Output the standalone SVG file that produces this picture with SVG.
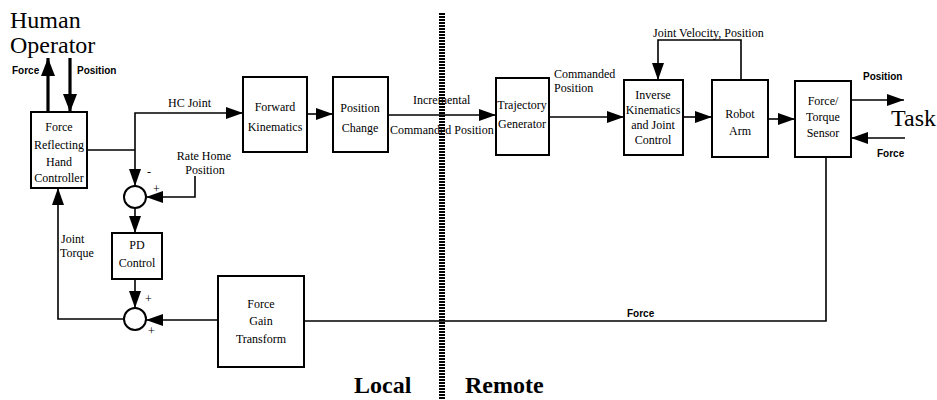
<svg xmlns="http://www.w3.org/2000/svg" width="937" height="400" viewBox="0 0 937 400">
<style>
.bx{fill:#fff;stroke:#000;stroke-width:2}
.ln{fill:none;stroke:#000;stroke-width:1.6}
.hv{fill:none;stroke:#000;stroke-width:3.2}
.t{font-family:"Liberation Serif",serif;font-size:12px;fill:#000}
.c{text-anchor:middle}
.s{font-family:"Liberation Sans",sans-serif;font-size:10px;font-weight:bold;fill:#000}
.big{font-family:"Liberation Serif",serif;font-size:24px;fill:#000}
.bb{font-family:"Liberation Serif",serif;font-size:24px;font-weight:bold;fill:#000}
</style>
<defs>
<marker id="ah" markerUnits="userSpaceOnUse" markerWidth="17" markerHeight="12" refX="17" refY="6" orient="auto">
<path d="M0,0 L17,6 L0,12 z" fill="#000"/>
</marker>
<marker id="ahb" markerUnits="userSpaceOnUse" markerWidth="18" markerHeight="14" refX="18" refY="7" orient="auto">
<path d="M0,0 L18,7 L0,14 z" fill="#000"/>
</marker>
</defs>
<rect width="937" height="400" fill="#fff"/>

<g id="divider">
<line x1="442" y1="13" x2="442" y2="400" stroke="#000" stroke-width="6" stroke-dasharray="2 1"/>
</g>

<g id="connectors">
<path class="hv" d="M48,112 V58" marker-end="url(#ahb)"/>
<path class="hv" d="M70,58 V112" marker-end="url(#ahb)"/>
<path class="ln" d="M87,150 H135"/>
<path class="ln" d="M135,150 V113 H243" marker-end="url(#ah)"/>
<path class="ln" d="M135,150 V186" marker-end="url(#ah)"/>
<path class="ln" d="M195,176 V197 H146" marker-end="url(#ah)"/>
<path class="ln" d="M135,208 V233" marker-end="url(#ah)"/>
<path class="ln" d="M135,279 V308" marker-end="url(#ah)"/>
<path class="ln" d="M124,319 H58 V188" marker-end="url(#ah)"/>
<path class="ln" d="M218,320 H146" marker-end="url(#ah)"/>
<path class="ln" d="M307,114 H333" marker-end="url(#ah)"/>
<path class="ln" d="M388,115 H496" marker-end="url(#ah)"/>
<path class="ln" d="M549,117 H624" marker-end="url(#ah)"/>
<path class="ln" d="M683,117 H712" marker-end="url(#ah)"/>
<path class="ln" d="M741,80 V40 H658 V80" marker-end="url(#ah)"/>
<path class="ln" d="M768,119 H795" marker-end="url(#ah)"/>
<path class="ln" d="M851,100 H904" marker-end="url(#ah)"/>
<path class="ln" d="M905,138 H851" marker-end="url(#ah)"/>
<path class="ln" d="M826,157 V321 H304"/>
</g>

<g id="human">
<text class="big" x="10" y="28">Human</text>
<text class="big" x="10" y="53">Operator</text>
<text class="s" x="12" y="74">Force</text>
<text class="s" x="77" y="74">Position</text>
</g>

<g id="hand-controller">
<rect class="bx" x="31" y="112" width="56" height="76"/>
<text class="t c" x="59" y="131">Force</text>
<text class="t c" x="59" y="149">Reflecting</text>
<text class="t c" x="59" y="166">Hand</text>
<text class="t c" x="59" y="182">Controller</text>
</g>

<g id="labels-local">
<text class="t" x="168" y="107">HC Joint</text>
<text class="t c" x="204" y="160">Rate Home</text>
<text class="t c" x="205" y="174">Position</text>
<text class="t" x="147" y="176" font-size="10">-</text>
<text class="t" x="153" y="193" font-size="9">+</text>
<text class="t" x="145" y="303" font-size="9">+</text>
<text class="t" x="148" y="335" font-size="9">+</text>
<text class="t" x="61" y="243">Joint</text>
<text class="t" x="60" y="257">Torque</text>
</g>

<g id="sum1"><circle cx="135" cy="197" r="11" fill="#fff" stroke="#000" stroke-width="2"/></g>
<g id="sum2"><circle cx="135" cy="319" r="11" fill="#fff" stroke="#000" stroke-width="2"/></g>

<g id="pd-control">
<rect class="bx" x="112" y="233" width="50" height="46"/>
<text class="t c" x="137" y="249">PD</text>
<text class="t c" x="137" y="267">Control</text>
</g>

<g id="force-gain">
<rect class="bx" x="218" y="276" width="86" height="91"/>
<text class="t c" x="261" y="308">Force</text>
<text class="t c" x="261" y="325">Gain</text>
<text class="t c" x="261" y="343">Transform</text>
</g>

<g id="forward-kinematics">
<rect class="bx" x="243" y="77" width="64" height="75"/>
<text class="t c" x="275" y="111">Forward</text>
<text class="t c" x="275" y="131">Kinematics</text>
</g>

<g id="position-change">
<rect class="bx" x="333" y="77" width="55" height="75"/>
<text class="t c" x="360" y="112">Position</text>
<text class="t c" x="360" y="132">Change</text>
</g>

<g id="labels-mid">
<text class="t" x="413" y="104">Incremental</text>
<text class="t" x="390" y="134">Commanded Position</text>
<text class="t" x="554" y="78">Commanded</text>
<text class="t" x="554" y="92">Position</text>
<text class="t" x="653" y="37">Joint Velocity, Position</text>
</g>

<g id="trajectory-generator">
<rect class="bx" x="496" y="78" width="53" height="77"/>
<text class="t c" x="522" y="109">Trajectory</text>
<text class="t c" x="522" y="128">Generator</text>
</g>

<g id="inverse-kinematics">
<rect class="bx" x="624" y="80" width="59" height="75"/>
<text class="t c" x="653" y="99">Inverse</text>
<text class="t c" x="653" y="114">Kinematics</text>
<text class="t c" x="653" y="129">and Joint</text>
<text class="t c" x="653" y="144">Control</text>
</g>

<g id="robot-arm">
<rect class="bx" x="712" y="80" width="56" height="77"/>
<text class="t c" x="740" y="118">Robot</text>
<text class="t c" x="740" y="135">Arm</text>
</g>

<g id="ft-sensor">
<rect class="bx" x="795" y="81" width="56" height="76"/>
<text class="t c" x="823" y="105">Force/</text>
<text class="t c" x="823" y="121">Torque</text>
<text class="t c" x="823" y="137">Sensor</text>
</g>

<g id="task">
<text class="s" x="863" y="80">Position</text>
<text class="big" x="891" y="126">Task</text>
<text class="s" x="877" y="157">Force</text>
<text class="s" x="627" y="317">Force</text>
</g>

<g id="regions">
<text class="bb" x="354" y="393">Local</text>
<text class="bb" x="465" y="393">Remote</text>
</g>
</svg>
